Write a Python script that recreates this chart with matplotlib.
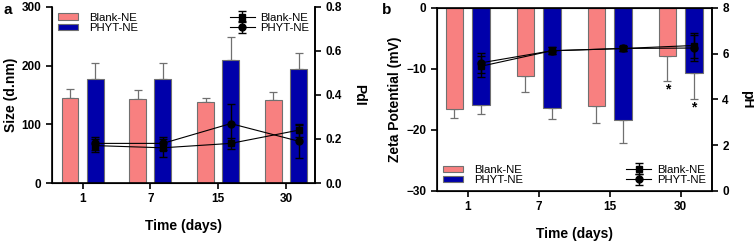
import matplotlib
matplotlib.use("Agg")
import matplotlib.pyplot as plt
import numpy as np

plt.rcParams['font.family'] = ['Liberation Sans', 'DejaVu Sans']

days = ["1", "7", "15", "30"]

# Panel a: particle size (bars) and PdI (lines)
size_blank = [145, 143, 138, 142]
size_blank_err = [15, 15, 6, 13]
size_phyt = [178, 177, 210, 194]
size_phyt_err = [26, 28, 38, 27]
pdi_blank = [0.17, 0.16, 0.18, 0.24]
pdi_blank_err = [0.03, 0.04, 0.025, 0.03]
pdi_phyt = [0.18, 0.18, 0.27, 0.19]
pdi_phyt_err = [0.03, 0.03, 0.09, 0.075]

# Panel b: zeta potential (bars) and pH (lines)
zeta_blank = [-16.5, -11.1, -16.1, -7.8]
zeta_blank_err = [1.5, 2.6, 2.8, 4.1]
zeta_phyt = [-15.9, -16.4, -18.4, -10.6]
zeta_phyt_err = [1.5, 1.8, 3.8, 4.3]
ph_blank = [5.45, 6.13, 6.23, 6.36]
ph_blank_err = [0.45, 0.15, 0.1, 0.55]
ph_phyt = [5.6, 6.13, 6.23, 6.25]
ph_phyt_err = [0.45, 0.15, 0.1, 0.55]
star_blank_y = -13.3
star_phyt_y = -16.3

PINK = '#F88080'
BLUE = '#0000AA'
GRAY = '#707070'

fig = plt.figure(figsize=(7.54, 2.46), dpi=100)
axa = fig.add_axes([0.069, 0.256, 0.349, 0.716])
axb = fig.add_axes([0.5796, 0.2236, 0.3644, 0.7439])

x = np.arange(len(days))
w = 0.25
off = 0.185

tick_kw = dict(labelsize=8.5, width=1.2, length=4, direction='out')
LEG_FS = 8.2
bar_leg_kw = dict(frameon=False, fontsize=LEG_FS, handlelength=1.8, handleheight=0.45,
                  handletextpad=1.0, labelspacing=0.05)
line_leg_kw = dict(frameon=False, fontsize=LEG_FS, handlelength=2.2,
                   handletextpad=0.5, labelspacing=0.05)

def style(ax):
    for lab in ax.get_xticklabels() + ax.get_yticklabels():
        lab.set_fontweight('bold')

# ---- panel a
axa.bar(x - off, size_blank, w, color=PINK, edgecolor=GRAY, linewidth=0.8, zorder=2)
axa.errorbar(x - off, size_blank, yerr=[np.zeros(4), size_blank_err], fmt='none',
             ecolor=GRAY, elinewidth=0.9, capsize=3, capthick=0.9, zorder=1)
axa.bar(x + off, size_phyt, w, color=BLUE, edgecolor=GRAY, linewidth=0.8, zorder=2)
axa.errorbar(x + off, size_phyt, yerr=[np.zeros(4), size_phyt_err], fmt='none',
             ecolor=GRAY, elinewidth=0.9, capsize=3, capthick=0.9, zorder=1)
axa.set_ylim(0, 300)
axa.set_yticks([0, 100, 200, 300])
axa.set_xlim(-0.45, 3.43)
axa.set_xticks(x)
axa.set_xticklabels(days)
axa.set_ylabel('Size (d.nm)', fontsize=10, fontweight='bold', labelpad=3)
axa.set_xlabel('Time (days)', fontsize=10, fontweight='bold', labelpad=10)
axa.spines['top'].set_visible(False)
for s in ['left', 'bottom', 'right']:
    axa.spines[s].set_linewidth(1.2)
axa.tick_params(**tick_kw)
style(axa)
axa.legend(handles=axa.patches[:1] + [axa.patches[4]], labels=['Blank-NE', 'PHYT-NE'],
           loc='upper left', borderaxespad=0.1, bbox_to_anchor=(0.0, 1.0), **bar_leg_kw)

axa2 = axa.twinx()
axa2.errorbar(x + off, pdi_blank, yerr=pdi_blank_err, color='black', marker='s', ms=5,
              lw=0.8, elinewidth=1.0, capsize=3, label='Blank-NE')
axa2.errorbar(x + off, pdi_phyt, yerr=pdi_phyt_err, color='black', marker='o', ms=5,
              lw=0.8, elinewidth=1.0, capsize=3, label='PHYT-NE')
axa2.set_ylim(0, 0.8)
axa2.set_yticks([0.0, 0.2, 0.4, 0.6, 0.8])
axa2.set_yticklabels(['0.0', '0.2', '0.4', '0.6', '0.8'])
axa2.set_ylabel('PdI', fontsize=10, fontweight='bold', rotation=270, labelpad=17)
axa2.spines['top'].set_visible(False)
axa2.spines['right'].set_linewidth(1.2)
axa2.tick_params(**tick_kw)
style(axa2)
axa2.legend(loc='upper right', borderaxespad=0.1, **line_leg_kw)
fig.text(0.004, 0.958, 'a', fontsize=11, fontweight='bold', va='center')

# ---- panel b
axb.bar(x - off, zeta_blank, w, color=PINK, edgecolor=GRAY, linewidth=0.8, zorder=2)
axb.errorbar(x - off, zeta_blank, yerr=[zeta_blank_err, np.zeros(4)], fmt='none',
             ecolor=GRAY, elinewidth=0.9, capsize=3, capthick=0.9, zorder=1)
axb.bar(x + off, zeta_phyt, w, color=BLUE, edgecolor=GRAY, linewidth=0.8, zorder=2)
axb.errorbar(x + off, zeta_phyt, yerr=[zeta_phyt_err, np.zeros(4)], fmt='none',
             ecolor=GRAY, elinewidth=0.9, capsize=3, capthick=0.9, zorder=1)
axb.text(3 - off, star_blank_y, '*', ha='center', va='center', fontsize=10, fontweight='bold')
axb.text(3 + off, star_phyt_y, '*', ha='center', va='center', fontsize=10, fontweight='bold')
axb.set_ylim(-30, 0)
axb.set_yticks([-30, -20, -10, 0])
axb.set_xlim(-0.43, 3.44)
axb.set_xticks(x)
axb.set_xticklabels(days)
axb.set_ylabel('Zeta Potential (mV)', fontsize=10, fontweight='bold', labelpad=3)
axb.set_xlabel('Time (days)', fontsize=10, fontweight='bold', labelpad=10)
for s in ['left', 'bottom', 'right', 'top']:
    axb.spines[s].set_linewidth(1.2)
axb.tick_params(**tick_kw)
style(axb)
axb.legend(handles=axb.patches[:1] + [axb.patches[4]], labels=['Blank-NE', 'PHYT-NE'],
           loc='lower left', borderaxespad=0.1, bbox_to_anchor=(0.0, 0.0), **bar_leg_kw)

axb2 = axb.twinx()
axb2.errorbar(x + off, ph_blank, yerr=ph_blank_err, color='black', marker='s', ms=5,
              lw=0.8, elinewidth=1.0, capsize=3, label='Blank-NE')
axb2.errorbar(x + off, ph_phyt, yerr=ph_phyt_err, color='black', marker='o', ms=5,
              lw=0.8, elinewidth=1.0, capsize=3, label='PHYT-NE')
axb2.set_ylim(0, 8)
axb2.set_yticks([0, 2, 4, 6, 8])
axb2.set_ylabel('pH', fontsize=10, fontweight='bold', rotation=270, labelpad=18)
axb2.spines['right'].set_linewidth(1.2)
axb2.tick_params(**tick_kw)
style(axb2)
axb2.legend(loc='lower right', borderaxespad=0.1, **line_leg_kw)
fig.text(0.506, 0.958, 'b', fontsize=11, fontweight='bold', va='center')

fig.savefig('out.png', dpi=100)
